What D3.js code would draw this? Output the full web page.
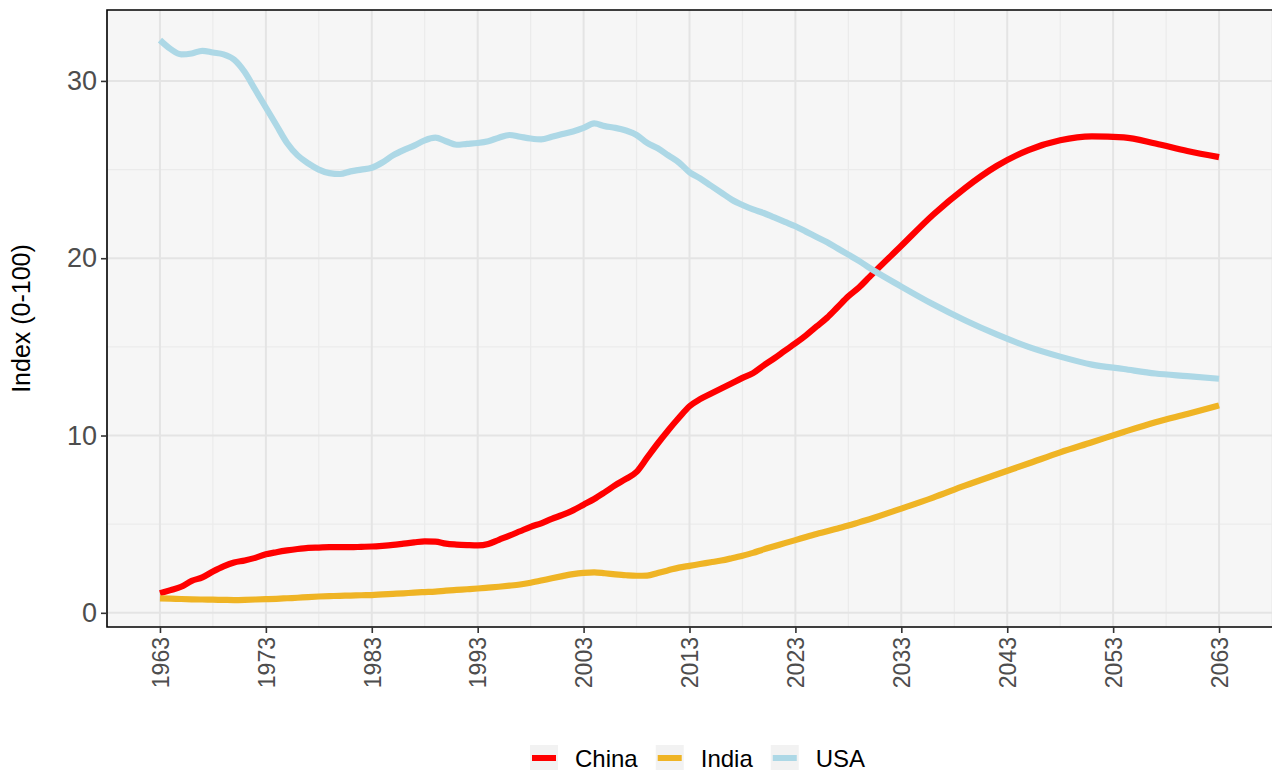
<!DOCTYPE html>
<html>
<head>
<meta charset="utf-8">
<script src="https://cdn.jsdelivr.net/npm/d3@7"></script>
<style>
  html, body { margin: 0; padding: 0; background: #ffffff; }
  svg { display: block; font-family: "Liberation Sans", Arial, sans-serif; }
</style>
</head>
<body>
<svg id="chart" width="1272" height="770"></svg>
<script>
// ---- Data ----
const years = [
  1963,1964,1965,1966,1967,1968,1969,1970,1971,1972,1973,1974,1975,1976,1977,1978,1979,1980,
  1981,1982,1983,1984,1985,1986,1987,1988,1989,1990,1991,1992,1993,1994,1995,1996,1997,1998,
  1999,2000,2001,2002,2003,2004,2005,2006,2007,2008,2009,2010,2011,2012,2013,2014,2015,2016,
  2017,2018,2019,2020,2021,2022,2023,2024,2025,2026,2027,2028,2029,2030,
  2033,2036,2039,2042,2045,2048,2051,2054,2057,2060,2063
];
const china = [
  1.10,1.28,1.47,1.80,2.00,2.33,2.62,2.84,2.95,3.10,3.30,3.42,3.52,3.60,3.66,3.68,3.70,3.70,
  3.70,3.72,3.74,3.78,3.83,3.90,3.97,4.03,4.02,3.90,3.85,3.82,3.80,3.88,4.12,4.35,4.60,4.85,
  5.05,5.30,5.52,5.78,6.10,6.42,6.80,7.20,7.55,7.95,8.75,9.55,10.30,11.00,11.65,12.05,12.35,12.65,
  12.95,13.25,13.52,13.95,14.35,14.78,15.20,15.65,16.15,16.65,17.25,17.85,18.35,18.95,
  20.70,22.45,23.95,25.20,26.10,26.65,26.87,26.82,26.47,26.05,25.70
];
const india = [
  0.81,0.80,0.78,0.76,0.75,0.74,0.73,0.72,0.73,0.75,0.77,0.79,0.82,0.85,0.89,0.92,0.94,0.96,
  0.97,0.99,1.00,1.04,1.07,1.10,1.14,1.17,1.20,1.25,1.29,1.33,1.37,1.42,1.47,1.53,1.60,1.70,
  1.82,1.95,2.07,2.18,2.25,2.28,2.23,2.17,2.12,2.09,2.10,2.25,2.40,2.55,2.65,2.75,2.85,2.95,
  3.08,3.22,3.38,3.58,3.75,3.93,4.10,4.28,4.45,4.60,4.76,4.92,5.10,5.28,
  5.88,6.50,7.17,7.80,8.42,9.05,9.62,10.20,10.75,11.22,11.70
];
const usa = [
  32.30,31.80,31.50,31.55,31.70,31.60,31.50,31.20,30.50,29.50,28.50,27.50,26.50,25.80,25.35,25.00,24.80,24.75,
  24.90,25.00,25.10,25.40,25.80,26.10,26.35,26.65,26.80,26.60,26.40,26.45,26.50,26.60,26.80,26.95,26.85,26.75,
  26.70,26.85,27.00,27.15,27.35,27.60,27.45,27.35,27.20,26.95,26.50,26.20,25.80,25.40,24.85,24.50,24.10,23.70,
  23.30,23.00,22.75,22.55,22.30,22.05,21.80,21.50,21.20,20.90,20.55,20.20,19.85,19.45,
  18.40,17.40,16.50,15.70,15.00,14.45,14.00,13.75,13.50,13.35,13.20
];
const seriesNames = ["China", "India", "USA"];
const seriesColors = ["#ff0000", "#efb425", "#add8e6"];
const xTicks = [1963,1973,1983,1993,2003,2013,2023,2033,2043,2053,2063];
const xMinor = [1958,1968,1978,1988,1998,2008,2018,2028,2038,2048,2058,2068];
const yTicks = [0,10,20,30];
const yMinor = [5,15,25];
const yTitle = "Index (0-100)";

// ---- Layout ----
const svg = d3.select("#chart");
const panel = { left: 107, top: 10, right: 1272, bottom: 627 };

const x = d3.scaleLinear().domain([1958, 2068]).range([panel.left, panel.right]);
const y = d3.scaleLinear().domain([-0.8, 34.0]).range([panel.bottom, panel.top]);

// panel background
svg.append("rect")
  .attr("x", panel.left).attr("y", panel.top)
  .attr("width", panel.right - panel.left).attr("height", panel.bottom - panel.top)
  .attr("fill", "#f6f6f6");

const grid = svg.append("g");
// minor grid
grid.selectAll(".xm").data(xMinor).join("line")
  .attr("x1", d => x(d)).attr("x2", d => x(d))
  .attr("y1", panel.top).attr("y2", panel.bottom)
  .attr("stroke", "#ebebeb").attr("stroke-width", 1.2);
grid.selectAll(".ym").data(yMinor).join("line")
  .attr("y1", d => y(d)).attr("y2", d => y(d))
  .attr("x1", panel.left).attr("x2", panel.right)
  .attr("stroke", "#ebebeb").attr("stroke-width", 1.2);
// major grid
grid.selectAll(".xM").data(xTicks).join("line")
  .attr("x1", d => x(d)).attr("x2", d => x(d))
  .attr("y1", panel.top).attr("y2", panel.bottom)
  .attr("stroke", "#e4e4e4").attr("stroke-width", 2);
grid.selectAll(".yM").data(yTicks).join("line")
  .attr("y1", d => y(d)).attr("y2", d => y(d))
  .attr("x1", panel.left).attr("x2", panel.right)
  .attr("stroke", "#e4e4e4").attr("stroke-width", 2);

// lines
const data = [china, india, usa];
const line = d3.line()
  .x((d, i) => x(years[i]))
  .y(d => y(d))
  .curve(d3.curveMonotoneX);

const linesG = svg.append("g");
data.forEach((vals, k) => {
  linesG.append("path")
    .datum(vals)
    .attr("d", line)
    .attr("fill", "none")
    .attr("stroke", seriesColors[k])
    .attr("stroke-width", 6.2)
    .attr("stroke-linejoin", "round")
    .attr("stroke-linecap", "butt");
});

// panel border (top, left, bottom)
svg.append("path")
  .attr("d", `M${panel.right},${panel.top}H${panel.left}V${panel.bottom}H${panel.right}`)
  .attr("fill", "none").attr("stroke", "#000").attr("stroke-width", 1.6);

// axes
const xAxis = d3.axisBottom(x).tickValues(xTicks).tickFormat(d3.format("d")).tickSize(6).tickPadding(4);
const gx = svg.append("g").attr("transform", `translate(0,${panel.bottom})`).call(xAxis);
gx.select(".domain").remove();
gx.selectAll(".tick line").attr("stroke", "#333").attr("stroke-width", 1.6);
gx.selectAll(".tick text")
  .attr("font-size", 23)
  .attr("fill", "#4d4d4d")
  .attr("transform", "rotate(-90)")
  .attr("text-anchor", "end")
  .attr("dy", "0.36em")
  .attr("x", -10)
  .attr("y", 0);

const yAxis = d3.axisLeft(y).tickValues(yTicks).tickFormat(d3.format("d")).tickSize(6).tickPadding(4);
const gy = svg.append("g").attr("transform", `translate(${panel.left},0)`).call(yAxis);
gy.select(".domain").remove();
gy.selectAll(".tick line").attr("stroke", "#333").attr("stroke-width", 1.6);
gy.selectAll(".tick text").attr("font-size", 27).attr("fill", "#4d4d4d");

// y title
svg.append("text")
  .attr("transform", `translate(21,${(panel.top + panel.bottom) / 2}) rotate(-90)`)
  .attr("text-anchor", "middle")
  .attr("dominant-baseline", "central")
  .attr("font-size", 25)
  .attr("fill", "#000")
  .text(yTitle);

// legend
const legend = svg.append("g");
const legY = 758;
const keyW = 28, keyH = 26;
let cx = 530;
seriesNames.forEach((name, k) => {
  const g = legend.append("g");
  g.append("rect")
    .attr("x", cx).attr("y", legY - keyH / 2)
    .attr("width", keyW).attr("height", keyH)
    .attr("fill", "#f2f2f2");
  g.append("line")
    .attr("x1", cx + 2).attr("x2", cx + keyW - 2)
    .attr("y1", legY).attr("y2", legY)
    .attr("stroke", seriesColors[k]).attr("stroke-width", 6);
  const t = g.append("text")
    .attr("x", cx + keyW + 17).attr("y", legY)
    .attr("dominant-baseline", "central")
    .attr("font-size", 24)
    .attr("fill", "#000")
    .text(name);
  const w = t.node().getComputedTextLength();
  cx = cx + keyW + 17 + w + 18;
});
</script>
</body>
</html>
